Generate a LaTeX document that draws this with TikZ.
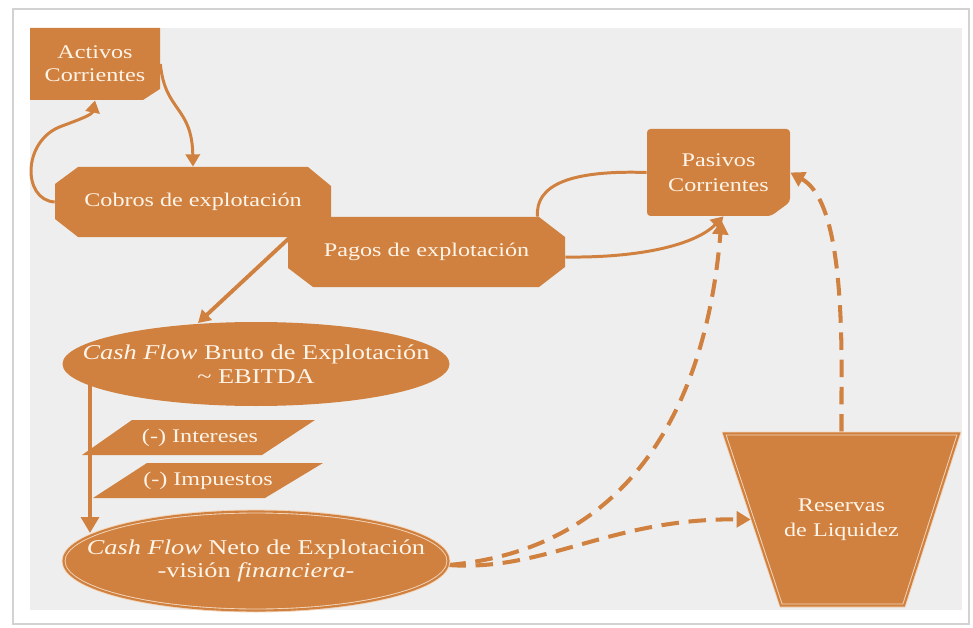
\documentclass[tikz,border=0pt]{standalone}
\usepackage{fontspec}
\setmainfont{Liberation Serif}[FakeStretch=1.25]
\usetikzlibrary{arrows.meta,calc,shapes.geometric}
\definecolor{org}{HTML}{D0813F}
\definecolor{panel}{HTML}{EEEEEE}
\definecolor{cream}{HTML}{FFF4E8}
\pgfdeclarelayer{back}
\pgfsetlayers{back,main}
\begin{document}
\begin{tikzpicture}[x=0.02cm,y=-0.02cm,
  lbl/.style={text=cream, font=\fontsize{11}{13}\selectfont, align=center, inner sep=0pt},
  bigl/.style={lbl, font=\fontsize{12}{13.5}\selectfont},
  conn/.style={draw=org, line width=1.7pt, -{Triangle[length=7pt,width=8pt]}},
  plain/.style={draw=org, line width=1.7pt},
  dsh/.style={draw=org, line width=2.3pt, dash pattern=on 10pt off 5.5pt, -{Triangle[length=8pt,width=9pt]}},
  dbl/.style={draw=cream!75!org, double=org, double distance=1.2pt, line width=0.5pt}]
\useasboundingbox (0,0) rectangle (973,628);
\begin{pgfonlayer}{back}
\fill[white] (0,0) rectangle (973,628);
\draw[gray!35, line width=1.2pt] (13,9) rectangle (969,624);
\fill[panel] (30,28) rectangle (962,610);
\end{pgfonlayer}
% shapes
\fill[org] (30,28) -- (160,28) -- (160,89) -- (143,100) -- (30,100) -- cycle;
\node[lbl, minimum width=2.6cm, minimum height=1.44cm] (act) at (95,64) {Activos\\Corrientes};
\fill[org] (55,184) -- (78,167) -- (308,167) -- (331,186) -- (331,218) -- (308,237) -- (78,237) -- (55,219) -- cycle;
\node[lbl, minimum width=5.52cm, minimum height=1.4cm] (cobros) at (193,202) {Cobros de explotación};
\fill[org] (288,217) -- (539,217) -- (565,237) -- (565,267) -- (539,287) -- (313,287) -- (288,268) -- cycle;
\node[lbl, minimum width=5.54cm, minimum height=1.4cm] (pagos) at (426.5,252) {Pagos de explotación};
\fill[org, rounded corners=2pt] (647,129) -- (790,129) -- (790,202) -- (771,216) -- (647,216) -- cycle;
\node[lbl, font=\fontsize{11}{14}\selectfont, minimum width=2.86cm, minimum height=1.74cm] (pas) at (718.5,172.5) {Pasivos\\Corrientes};
\fill[org] (256,364) ellipse [x radius=193.5, y radius=42];
\node[bigl, minimum width=7.74cm, minimum height=1.68cm] (cf1) at (256,364) {\textit{Cash Flow} Bruto de Explotación\\\textasciitilde{} EBITDA};
\fill[org] (256,561) ellipse [x radius=194, y radius=51];
\draw[dbl] (256,561) ellipse [x radius=192.5, y radius=49.5];
\node[bigl, minimum width=7.76cm, minimum height=2.04cm] (cf2) at (256,561) {\textit{Cash Flow} Neto de Explotación\\-visión \textit{financiera}-};
\fill[org] (132,420) -- (315,420) -- (262,455) -- (82,455) -- cycle;
\node[lbl] (int) at (200,438) {(-) Intereses};
\fill[org] (147,463) -- (323,463) -- (265,498) -- (93,498) -- cycle;
\node[lbl] (imp) at (208,481) {(-) Impuestos};
\fill[org] (722,432) -- (961,432) -- (905,607) -- (780,607) -- cycle;
\draw[dbl] (724,433.5) -- (959,433.5) -- (904,605.5) -- (781,605.5) -- cycle;
\node[lbl, font=\fontsize{11}{14}\selectfont, minimum width=4.78cm, minimum height=3.5cm] (res) at (841.5,519.5) {Reservas\\de Liquidez};
% connectors
\begin{pgfonlayer}{back}
\draw[conn] (act.east) .. controls (165,112) and (192,106) .. (cobros.north);
\draw[conn] (cobros.west) .. controls (22,200) and (22,140) .. (62,126) .. controls (78,120) and (92,115) .. (act.south);
\draw[conn] ($(pagos.east)+(0,5)$) .. controls (640,258) and (695,245) .. ($(pas.south)+(5,0)$);
\draw[plain] (pas.west) .. controls (570,170) and (535,185) .. ($(pagos.north)+(111,0)$);
\draw[conn, line width=2.2pt] ($(cobros.south)+(97,0)$) -- ($(cf1.center)+(-58,-41)$);
\draw[conn, line width=2.8pt, -{Triangle[length=9pt,width=10pt]}] ($(cf1.center)+(-166,0)$) -- ($(cf2.center)+(-166,-28)$);
\draw[dsh] ($(cf2.east)+(-2,4)$) .. controls (620,550) and (705,420) .. ($(pas.south)+(3,4)$);
\draw[dsh] ($(cf2.east)+(-2,4)$) .. controls (545,572) and (610,518) .. ($(res.west)+(29,0)$);
\draw[dsh] (res.north) -- ++(0,-40) .. controls (843,260) and (830,195) .. (pas.east);
\end{pgfonlayer}
\end{tikzpicture}
\end{document}
